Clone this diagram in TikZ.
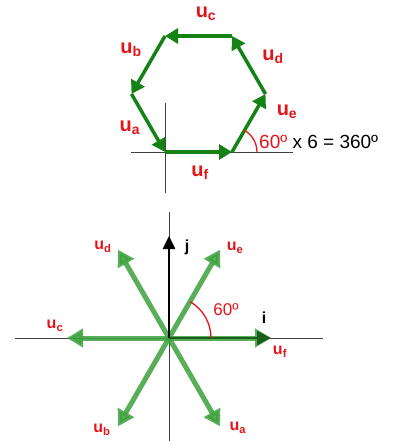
\documentclass[tikz,border=0pt]{standalone}
\usepackage{fontspec}
\setmainfont{Liberation Sans}
\usetikzlibrary{arrows.meta}
\definecolor{hexgreen}{RGB}{20,130,20}
\definecolor{stargreen}{RGB}{60,160,60}
\definecolor{darkgreen}{RGB}{25,95,25}
\definecolor{lblred}{RGB}{230,20,25}
\newcommand{\vu}[1]{\textbf{u}\textsubscript{\textbf{#1}}}

\begin{document}
\begin{tikzpicture}[
  x=1pt,y=-1pt,
  axis/.style={draw=black!75,line width=1pt},
  side/.style={hexgreen,line width=3.5pt,-{Triangle[length=13pt,width=15pt]}},
  spoke/.style={stargreen,opacity=0.85,line width=5pt,
    -{Triangle[length=16pt,width=18pt]}},
  biglbl/.style={text=lblred,font=\fontsize{20}{24}\selectfont,inner sep=0pt},
  smalllbl/.style={text=lblred,font=\fontsize{16}{19}\selectfont,inner sep=0pt}
]
\useasboundingbox (0,0) rectangle (393,442);
% hexagon of the six vectors
\coordinate (h1) at (165,152);
\coordinate (h2) at (232,152);
\coordinate (h3) at (265.5,94);
\coordinate (h4) at (232,36);
\coordinate (h5) at (165,36);
\coordinate (h6) at (131.5,94);
\coordinate (tx0) at (131,152);
\coordinate (tx1) at (293,152);
\coordinate (ty0) at (165,103);
\coordinate (ty1) at (165,193);
\draw[axis] (tx0) -- (tx1);
\draw[axis] (ty0) -- (ty1);
\draw[side] (h6) -- (h1);
\draw[side] (h1) -- (h2);
\draw[side] (h2) -- (h3);
\draw[side] (h3) -- (h4);
\draw[side] (h4) -- (h5);
\draw[side] (h5) -- (h6);
\draw[lblred,line width=1.3pt] ([xshift=25pt]h2) arc[start angle=0,end angle=-60,radius=25];
\node[biglbl] (tua) at (130,128) {\vu{a}};
\node[biglbl] (tub) at (131,50) {\vu{b}};
\node[biglbl] (tuc) at (206,14) {\vu{c}};
\node[biglbl] (tud) at (273,57) {\vu{d}};
\node[biglbl] (tue) at (287,112) {\vu{e}};
\node[biglbl] (tuf) at (200,173) {\vu{f}};
\node[anchor=west,inner sep=0pt,font=\fontsize{19}{23}\selectfont] (sum) at (259,142)
  {\textcolor{lblred}{60º} x 6 = 360º};
% star of the six vectors
\coordinate (o) at (169,338);
\coordinate (bx0) at (15,338);
\coordinate (bx1) at (323,338);
\coordinate (by0) at (169,212);
\coordinate (by1) at (169,441);
\coordinate (sa) at (220,426.3);
\coordinate (sb) at (118,426.3);
\coordinate (sc) at (67,338);
\coordinate (sd) at (118,249.7);
\coordinate (se) at (220,249.7);
\coordinate (sf) at (271,338);
\draw[axis] (bx0) -- (bx1);
\draw[axis] (by0) -- (by1);
\draw[spoke] (o) -- (sa);
\draw[spoke] (o) -- (sb);
\draw[spoke] (o) -- (sc);
\draw[spoke] (o) -- (sd);
\draw[spoke] (o) -- (se);
\draw[spoke] (o) -- (sf);
\draw[darkgreen,line width=2.5pt,-{Triangle[length=14pt,width=14pt]}] (o) -- (sf);
\draw[black,line width=2.5pt,-{Triangle[length=13pt,width=12pt]}] (o) -- ++(0,-102);
\draw[lblred,line width=1.3pt] ([xshift=42pt]o) arc[start angle=0,end angle=-60,radius=42];
\node[smalllbl] (bua) at (238,428) {\vu{a}};
\node[smalllbl] (bub) at (102,430) {\vu{b}};
\node[smalllbl] (buc) at (55,326) {\vu{c}};
\node[smalllbl] (bud) at (103,247) {\vu{d}};
\node[smalllbl] (bue) at (235,248) {\vu{e}};
\node[smalllbl] (buf) at (280,352) {\vu{f}};
\node[inner sep=0pt,font=\fontsize{16}{19}\selectfont\bfseries] (bj) at (187,247) {j};
\node[inner sep=0pt,font=\fontsize{16}{19}\selectfont\bfseries] (bi) at (264,318) {i};
\node[text=lblred,inner sep=0pt,font=\fontsize{17}{20}\selectfont] (bang) at (226,310) {60º};
\end{tikzpicture}
\end{document}
